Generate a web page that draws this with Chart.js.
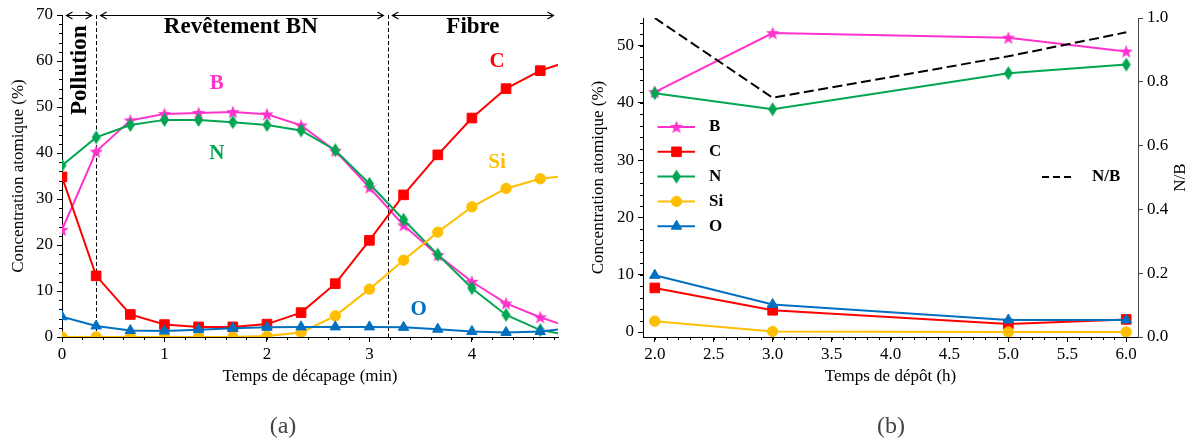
<!DOCTYPE html>
<html><head><meta charset="utf-8">
<script src="https://cdn.jsdelivr.net/npm/chart.js@4.4.0/dist/chart.umd.min.js"></script>
<style>
html,body{margin:0;padding:0;background:#fff;}
body{width:1192px;height:441px;position:relative;overflow:hidden;}
#ca{position:absolute;left:0;top:0;}
#cb{position:absolute;left:590px;top:0;}
.cap{position:absolute;top:412px;height:28px;line-height:28px;font:24px "Liberation Serif",serif;color:#444;transform:translateX(-50%);white-space:nowrap;}
</style></head><body>
<canvas id="ca" width="590" height="441"></canvas>
<canvas id="cb" width="602" height="441"></canvas>
<div class="cap" style="left:283px">(a)</div>
<div class="cap" style="left:891px">(b)</div>
<script>
// ---------------- data : (a) profil en profondeur ----------------
const timeA = [0, 0.333, 0.667, 1.0, 1.333, 1.667, 2.0, 2.333, 2.667, 3.0, 3.333, 3.667, 4.0, 4.333, 4.667, 5.0];
const boreA = [23.3, 40.3, 47.1, 48.5, 48.7, 48.9, 48.4, 46.0, 40.5, 32.5, 24.3, 17.8, 12.0, 7.3, 4.3, 1.8];
const carbA = [34.8, 13.3, 4.9, 2.7, 2.2, 2.2, 2.8, 5.3, 11.6, 21.0, 30.9, 39.6, 47.6, 54.0, 57.9, 60.3];
const azotA = [37.3, 43.4, 46.1, 47.2, 47.2, 46.7, 46.1, 44.9, 40.6, 33.3, 25.5, 17.9, 10.6, 4.8, 1.5, 0.2];
const siliA = [0, 0, 0, 0, 0, 0, 0.2, 1.0, 4.6, 10.4, 16.7, 22.8, 28.3, 32.3, 34.4, 35.2];
const oxygA = [4.4, 2.4, 1.4, 1.3, 1.6, 1.9, 2.1, 2.2, 2.2, 2.2, 2.1, 1.7, 1.2, 1.0, 1.2, 2.0];
const xTicksA = [0, 1, 2, 3, 4];
const yTicksA = [0, 10, 20, 30, 40, 50, 60, 70];
const zoneBounds = [0, 0.333, 3.18, 4.84];
const zoneNames = ['Pollution', 'Revêtement BN', 'Fibre'];

// ---------------- data : (b) temps de dépôt ----------------
const depTime = [2.0, 3.0, 5.0, 6.0];
const boreB = [41.9, 52.2, 51.4, 49.0];
const carbB = [7.7, 3.8, 1.4, 2.2];
const azotB = [41.7, 38.9, 45.2, 46.7];
const siliB = [1.9, 0.1, 0.0, 0.0];
const oxygB = [9.9, 4.8, 2.1, 2.1];
const ratioNB = [1.0, 0.75, 0.88, 0.955];
const xTicksB = [2.0, 2.5, 3.0, 3.5, 4.0, 4.5, 5.0, 5.5, 6.0];
const yTicksB = [0, 10, 20, 30, 40, 50];
const nbTicks = [0.0, 0.2, 0.4, 0.6, 0.8, 1.0];

// ---------------- styles ----------------
const FONT = '"Liberation Serif", "Times New Roman", serif';
Chart.defaults.font.family = FONT;
Chart.defaults.color = '#000';
const colB = '#ff33cc', colC = '#ff0000', colN = '#00a651', colSi = '#ffbf00', colO = '#0070c0';

function starImg(color, R) {
  const s = Math.ceil(2 * R + 2), c = document.createElement('canvas');
  c.width = c.height = s;
  const g = c.getContext('2d');
  g.fillStyle = color; g.beginPath();
  for (let i = 0; i < 10; i++) {
    const a = -Math.PI / 2 + i * Math.PI / 5, rr = i % 2 ? R * 0.42 : R;
    g.lineTo(s / 2 + rr * Math.cos(a), s / 2 + rr * Math.sin(a) + 0.5);
  }
  g.closePath(); g.fill();
  return c;
}
function diamondImg(color, w, h) {
  const c = document.createElement('canvas');
  c.width = w + 2; c.height = h + 2;
  const g = c.getContext('2d');
  g.fillStyle = color; g.beginPath();
  g.moveTo(c.width / 2, 1); g.lineTo(c.width - 1, c.height / 2);
  g.lineTo(c.width / 2, c.height - 1); g.lineTo(1, c.height / 2);
  g.closePath(); g.fill();
  return c;
}
const starB = starImg(colB, 7);
const diamN = diamondImg(colN, 9, 14);

const mk = {
  B: {color: colB, style: starB, r: 6},
  C: {color: colC, style: 'rect', r: 6.8},
  N: {color: colN, style: diamN, r: 6},
  Si: {color: colSi, style: 'circle', r: 5.2},
  O: {color: colO, style: 'triangle', r: 6},
};

function series(key, xs, ys, order) {
  const m = mk[key];
  return {
    label: key, data: xs.map((x, i) => ({x, y: ys[i]})),
    borderColor: m.color, backgroundColor: m.color, borderWidth: 2,
    pointStyle: m.style, pointRadius: m.r, pointHoverRadius: m.r,
    pointBackgroundColor: m.color, pointBorderColor: m.color, pointBorderWidth: 1,
    tension: 0, fill: false, order, yAxisID: 'y'
  };
}

function xAxis(min, max, ticks, fmt) {
  return {
    type: 'linear', position: 'bottom', min, max,
    afterFit: s => { s.height = 104; },
    afterBuildTicks: s => { s.ticks = ticks.map(v => ({value: v})); },
    grid: {display: true, drawOnChartArea: false, drawTicks: true, tickLength: 5, color: '#000', lineWidth: 1},
    border: {display: true, color: '#000', width: 1},
    ticks: {font: {size: 17, family: FONT}, color: '#000', padding: 2, autoSkip: false, maxRotation: 0, callback: fmt}
  };
}
function yAxis(min, max, ticks, fmt, width, pos, col) {
  return {
    type: 'linear', position: pos, min, max,
    afterFit: s => { s.width = width; },
    afterBuildTicks: s => { s.ticks = ticks.map(v => ({value: v})); },
    grid: {display: true, drawOnChartArea: false, drawTicks: true, tickLength: 5, color: col, lineWidth: 1},
    border: {display: true, color: col, width: 1},
    ticks: {font: {size: 17, family: FONT}, color: '#000', padding: 4, autoSkip: false, callback: fmt}
  };
}

function minorTicks(ctx, scale, a, from, to, step, side) {
  ctx.save(); ctx.strokeStyle = side === 'right' ? '#444' : '#000'; ctx.lineWidth = 1;
  const n = Math.round((to - from) / step);
  for (let i = 0; i <= n; i++) {
    const v = from + i * step;
    if (v <= scale.min + 1e-9 || v >= scale.max - 1e-9) continue;
    const p = Math.round(scale.getPixelForValue(v)) + 0.5;
    ctx.beginPath();
    if (side === 'bottom') { ctx.moveTo(p, a.bottom); ctx.lineTo(p, a.bottom + 3); }
    else { ctx.moveTo(a.left - 3, p); ctx.lineTo(a.left, p); }
    ctx.stroke();
  }
  ctx.restore();
}
function text(ctx, str, x, y, font, color, align, base, rot) {
  ctx.save(); ctx.translate(x, y); if (rot) ctx.rotate(rot);
  ctx.font = font; ctx.fillStyle = color; ctx.textAlign = align || 'center'; ctx.textBaseline = base || 'middle';
  ctx.fillText(str, 0, 0); ctx.restore();
}
function arrow(ctx, x1, x2, y) {
  const h = 6, w = 3.5;
  ctx.beginPath();
  ctx.moveTo(x1, y); ctx.lineTo(x2, y);
  ctx.moveTo(x1 + h, y - w); ctx.lineTo(x1, y); ctx.lineTo(x1 + h, y + w);
  ctx.moveTo(x2 - h, y - w); ctx.lineTo(x2, y); ctx.lineTo(x2 - h, y + w);
  ctx.stroke();
}

// ---------------- chart (a) ----------------
const decorA = {
  id: 'decorA',
  beforeDatasetsDraw(chart) {
    const {ctx, chartArea: a, scales: {x}} = chart;
    ctx.save(); ctx.strokeStyle = '#000'; ctx.lineWidth = 1; ctx.setLineDash([4, 2.5]);
    zoneBounds.slice(1, -1).forEach(v => {
      const p = Math.round(x.getPixelForValue(v)) + 0.5;
      ctx.beginPath(); ctx.moveTo(p, a.top); ctx.lineTo(p, a.bottom); ctx.stroke();
    });
    ctx.restore();
  },
  afterDraw(chart) {
    const {ctx, chartArea: a, scales: {x, y}} = chart;
    minorTicks(ctx, x, a, 0, 4.8, 0.2, 'bottom');
    minorTicks(ctx, y, a, 0, 70, 2, 'left');
    ctx.save(); ctx.strokeStyle = '#000'; ctx.lineWidth = 1.2;
    const ay = Math.round(y.getPixelForValue(70)) + 0.5;
    for (let i = 0; i < 3; i++) arrow(ctx, x.getPixelForValue(zoneBounds[i]) + 4.5, x.getPixelForValue(zoneBounds[i + 1]) - 4.5, ay);
    ctx.restore();
    const bold = s => 'bold ' + s + 'px ' + FONT;
    text(ctx, zoneNames[0], x.getPixelForValue(0.176), y.getPixelForValue(58.0), bold(23), '#000', 'center', 'middle', -Math.PI / 2);
    text(ctx, zoneNames[1], x.getPixelForValue(1.745), y.getPixelForValue(66.0), bold(23), '#000', 'center', 'alphabetic');
    text(ctx, zoneNames[2], x.getPixelForValue(4.01), y.getPixelForValue(66.0), bold(23), '#000', 'center', 'alphabetic');
    const lab = [['B', 1.51, 53.9, colB], ['N', 1.51, 38.7, colN], ['C', 4.245, 58.7, colC], ['Si', 4.245, 36.7, colSi], ['O', 3.48, 4.8, colO]];
    lab.forEach(([t, lx, ly, c]) => text(ctx, t, x.getPixelForValue(lx), y.getPixelForValue(ly), bold(21), c, 'center', 'alphabetic'));
    text(ctx, 'Temps de décapage (min)', (a.left + a.right) / 2, 377, '17px ' + FONT, '#000');
    text(ctx, 'Concentration atomique (%)', 19, (a.top + a.bottom) / 2, '17px ' + FONT, '#000', 'center', 'middle', -Math.PI / 2);
  }
};

new Chart(document.getElementById('ca'), {
  type: 'line',
  data: {datasets: [
    series('B', timeA, boreA, 4),
    series('C', timeA, carbA, 3),
    series('N', timeA, azotA, 2),
    series('Si', timeA, siliA, 1),
    series('O', timeA, oxygA, 0),
  ]},
  options: {
    responsive: false, animation: false, devicePixelRatio: 1,
    layout: {padding: {left: 0, right: 32, top: 15, bottom: 0}},
    plugins: {legend: {display: false}, tooltip: {enabled: false}},
    events: [],
    scales: {
      x: xAxis(0, 4.84, xTicksA, v => String(v)),
      y: yAxis(0, 70, yTicksA, v => String(v), 62, 'left', '#000')
    }
  },
  plugins: [decorA]
});

// ---------------- chart (b) ----------------
const legendKeys = ['B', 'C', 'N', 'Si', 'O'];
const decorB = {
  id: 'decorB',
  afterDraw(chart) {
    const {ctx, chartArea: a, scales: {x, y}} = chart;
    minorTicks(ctx, x, a, 1.9, 6.1, 0.1, 'bottom');
    minorTicks(ctx, y, a, 0, 54, 2, 'left');
    // legend
    legendKeys.forEach((k, i) => {
      const m = mk[k], ly = 127 + i * 24.8;
      ctx.save();
      ctx.strokeStyle = m.color; ctx.fillStyle = m.color; ctx.lineWidth = 2;
      ctx.beginPath(); ctx.moveTo(67.5, ly); ctx.lineTo(105, ly); ctx.stroke();
      ctx.lineWidth = 1;
      Chart.helpers.drawPoint(ctx, {pointStyle: m.style, radius: m.r, borderWidth: 1, rotation: 0}, 86.5, ly);
      ctx.restore();
      text(ctx, k, 119, ly, 'bold 17px ' + FONT, '#000', 'left', 'middle');
    });
    ctx.save(); ctx.strokeStyle = '#000'; ctx.lineWidth = 2; ctx.setLineDash([7, 4]);
    ctx.beginPath(); ctx.moveTo(452, 177); ctx.lineTo(484, 177); ctx.stroke(); ctx.restore();
    text(ctx, 'N/B', 502, 177, 'bold 17px ' + FONT, '#000', 'left', 'middle');
    text(ctx, 'Temps de dépôt (h)', (a.left + a.right) / 2, 377, '17px ' + FONT, '#000');
    text(ctx, 'Concentration atomique (%)', 9, (a.top + a.bottom) / 2, '17px ' + FONT, '#000', 'center', 'middle', -Math.PI / 2);
    text(ctx, 'N/B', 591, (a.top + a.bottom) / 2, '17px ' + FONT, '#000', 'center', 'middle', -Math.PI / 2);
  }
};

new Chart(document.getElementById('cb'), {
  type: 'line',
  data: {datasets: [
    series('B', depTime, boreB, 5),
    series('C', depTime, carbB, 4),
    series('N', depTime, azotB, 3),
    series('Si', depTime, siliB, 2),
    series('O', depTime, oxygB, 1),
    {label: 'N/B', data: depTime.map((x, i) => ({x, y: ratioNB[i]})), yAxisID: 'y2',
     borderColor: '#000', borderWidth: 2, borderDash: [10, 4.5], pointRadius: 0, tension: 0, fill: false, order: 0}
  ]},
  options: {
    responsive: false, animation: false, devicePixelRatio: 1,
    layout: {padding: {left: 0, right: 4, top: 18, bottom: 0}},
    plugins: {legend: {display: false}, tooltip: {enabled: false}},
    events: [],
    scales: {
      x: xAxis(1.9, 6.1, xTicksB, v => v.toFixed(1)),
      y: yAxis(-0.87, 54.84, yTicksB, v => String(v), 53, 'left', '#000'),
      y2: yAxis(0, 1.0, nbTicks, v => v.toFixed(1), 50, 'right', '#444')
    }
  },
  plugins: [decorB]
});
</script>
</body></html>
